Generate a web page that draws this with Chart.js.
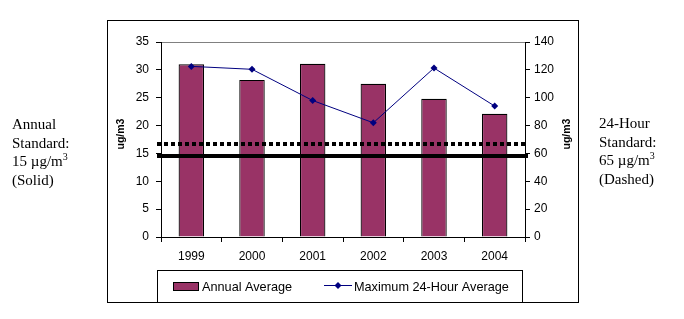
<!DOCTYPE html>
<html>
<head>
<meta charset="utf-8">
<script src="https://cdn.jsdelivr.net/npm/chart.js@4/dist/chart.umd.min.js"></script>
<style>
body { margin: 0; background: #fff; }
#wrap { position: relative; width: 684px; height: 319px; }
canvas { position: absolute; left: 0; top: 0; }
.note { position: absolute; font-family: 'Liberation Serif', 'Times New Roman', serif; font-size: 15px; line-height: 18.5px; color: #000; }
.note sup { font-size: 10px; line-height: 0; vertical-align: 6px; }
</style>
</head>
<body>
<div id="wrap">
  <canvas id="chart" width="684" height="319"></canvas>
  <div class="note" style="left:12px; top:115px">Annual<br>Standard:<br>15 µg/m<sup>3</sup><br>(Solid)</div>
  <div class="note" style="left:599px; top:114px">24-Hour<br>Standard:<br>65 µg/m<sup>3</sup><br>(Dashed)</div>
</div>
<script>
let years = ['1999', '2000', '2001', '2002', '2003', '2004']
let annualAverage = [31.0, 28.2, 31.1, 27.5, 24.8, 22.1]
let max24Hour = [122.5, 120.4, 98, 82, 121.3, 94]

let leftTicks = [0, 5, 10, 15, 20, 25, 30, 35]
let rightTicks = [0, 20, 40, 60, 80, 100, 120, 140]

// where the two standard lines sit in the picture (left axis / right axis units)
let annualStandard = 14.5
let dailyStandard = 66.5

let axisTitle = 'ug/m3'
let barLabel = 'Annual Average'
let lineLabel = 'Maximum 24-Hour Average'

Chart.defaults.font.family = "'Liberation Sans', Arial, sans-serif"
Chart.defaults.font.size = 12
Chart.defaults.color = '#000'

let extras = {
    id: 'extras',
    afterDatasetsDraw(chart) {
        let ctx = chart.ctx
        let area = chart.chartArea
        let y = chart.scales.y
        let y1 = chart.scales.y1
        ctx.save()
        ctx.strokeStyle = '#000'
        ctx.lineWidth = 4
        let ys = Math.round(y.getPixelForValue(annualStandard))
        ctx.beginPath()
        ctx.moveTo(area.left - 4, ys)
        ctx.lineTo(area.right + 3, ys)
        ctx.stroke()
        let yd = Math.round(y1.getPixelForValue(dailyStandard))
        ctx.setLineDash([4, 3])
        ctx.beginPath()
        ctx.moveTo(area.left - 4, yd)
        ctx.lineTo(area.right + 3, yd)
        ctx.stroke()
        ctx.restore()
    },
    afterDraw(chart) {
        let ctx = chart.ctx
        ctx.save()
        // outer frame and legend box
        ctx.strokeStyle = '#000'
        ctx.lineWidth = 1
        ctx.strokeRect(107.5, 20.5, 471, 282)
        ctx.strokeRect(157.5, 270.5, 365, 32)

        // axis titles
        ctx.font = "bold 10.5px 'Liberation Sans', Arial, sans-serif"
        ctx.fillStyle = '#000'
        ctx.textAlign = 'center'
        ctx.textBaseline = 'middle'
        for (let x of [121, 567]) {
            ctx.save()
            ctx.translate(x, 134)
            ctx.rotate(-Math.PI / 2)
            ctx.fillText(axisTitle, 0, 0)
            ctx.restore()
        }

        // legend
        let bars = chart.data.datasets[1]
        let line = chart.data.datasets[0]
        ctx.font = "12.7px 'Liberation Sans', Arial, sans-serif"
        ctx.textAlign = 'left'
        ctx.fillStyle = bars.backgroundColor
        ctx.fillRect(173, 282.5, 25, 8)
        ctx.strokeStyle = '#000'
        ctx.strokeRect(173.5, 282.5, 25, 8)
        ctx.fillStyle = '#000'
        ctx.fillText(bars.label, 202, 287)

        ctx.strokeStyle = line.borderColor
        ctx.beginPath()
        ctx.moveTo(324, 285.5)
        ctx.lineTo(352, 285.5)
        ctx.stroke()
        ctx.fillStyle = line.borderColor
        ctx.beginPath()
        ctx.moveTo(338, 282)
        ctx.lineTo(341.5, 285.5)
        ctx.lineTo(338, 289)
        ctx.lineTo(334.5, 285.5)
        ctx.closePath()
        ctx.fill()
        ctx.fillStyle = '#000'
        ctx.fillText(line.label, 354, 287)
        ctx.restore()
    }
}

new Chart(document.getElementById('chart').getContext('2d'), {
    type: 'bar',
    data: {
        labels: years,
        datasets: [{
            type: 'line',
            label: lineLabel,
            data: max24Hour,
            yAxisID: 'y1',
            borderColor: '#000080',
            backgroundColor: '#000080',
            borderWidth: 1,
            tension: 0,
            pointStyle: 'rectRot',
            pointRadius: 3.5,
            pointBorderWidth: 0
        }, {
            label: barLabel,
            data: annualAverage,
            yAxisID: 'y',
            backgroundColor: '#993366',
            borderColor: '#000',
            borderWidth: 1.2,
            categoryPercentage: 1,
            barPercentage: 0.42
        }]
    },
    options: {
        responsive: false,
        animation: false,
        layout: { padding: { left: 107, right: 106, top: 42, bottom: 52 } },
        plugins: { legend: { display: false }, tooltip: { enabled: false } },
        scales: {
            x: {
                grid: { offset: true, drawOnChartArea: false, tickLength: 5, color: '#000' },
                border: { color: '#000' },
                ticks: { padding: 7, maxRotation: 0 },
                afterFit: s => { s.height = 30 }
            },
            y: {
                position: 'left',
                min: leftTicks[0],
                max: leftTicks[leftTicks.length - 1],
                afterBuildTicks: s => { s.ticks = leftTicks.map(v => ({ value: v })) },
                ticks: { padding: 7 },
                grid: {
                    color: c => c.tick && c.tick.value === 35 ? '#808080' : 'rgba(0,0,0,0)',
                    tickColor: '#000',
                    tickLength: 5
                },
                border: { color: '#000' },
                afterFit: s => { s.width = 54 }
            },
            y1: {
                position: 'right',
                min: rightTicks[0],
                max: rightTicks[rightTicks.length - 1],
                afterBuildTicks: s => { s.ticks = rightTicks.map(v => ({ value: v })) },
                ticks: { padding: 4 },
                grid: { drawOnChartArea: false, color: '#000', tickLength: 5 },
                border: { color: '#000' },
                afterFit: s => { s.width = 53 }
            }
        }
    },
    plugins: [extras]
})
</script>
</body>
</html>
